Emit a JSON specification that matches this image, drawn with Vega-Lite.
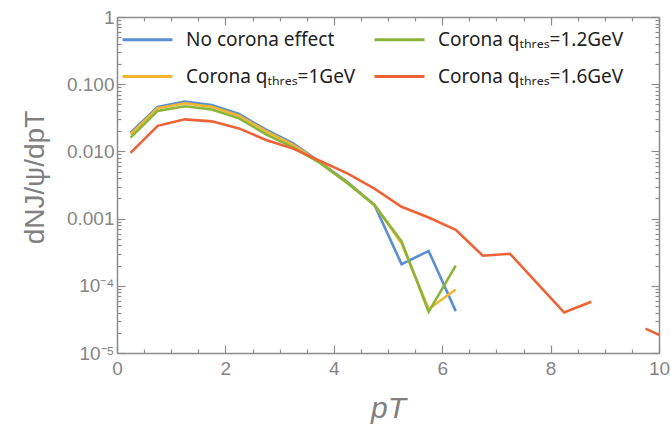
{
  "$schema": "https://vega.github.io/schema/vega-lite/v6.json",
  "autosize": "none",
  "width": 542,
  "height": 336,
  "padding": {"left": 117, "top": 17, "right": 12, "bottom": 78},
  "background": "white",
  "config": {"view": {"stroke": null}},
  "data": {"values": [
    {"pt": 0.25, "v": 0.019, "s": "No corona effect"},
    {"pt": 0.75, "v": 0.046, "s": "No corona effect"},
    {"pt": 1.25, "v": 0.055, "s": "No corona effect"},
    {"pt": 1.75, "v": 0.049, "s": "No corona effect"},
    {"pt": 2.25, "v": 0.036, "s": "No corona effect"},
    {"pt": 2.75, "v": 0.021, "s": "No corona effect"},
    {"pt": 3.25, "v": 0.0132, "s": "No corona effect"},
    {"pt": 3.75, "v": 0.0069, "s": "No corona effect"},
    {"pt": 4.25, "v": 0.0035, "s": "No corona effect"},
    {"pt": 4.75, "v": 0.0016, "s": "No corona effect"},
    {"pt": 5.25, "v": 0.00021, "s": "No corona effect"},
    {"pt": 5.75, "v": 0.00033, "s": "No corona effect"},
    {"pt": 6.25, "v": 0.000042, "s": "No corona effect"},
    {"pt": 0.25, "v": 0.018, "s": "Corona qₜₕᵣₑₛ=1GeV"},
    {"pt": 0.75, "v": 0.044, "s": "Corona qₜₕᵣₑₛ=1GeV"},
    {"pt": 1.25, "v": 0.052, "s": "Corona qₜₕᵣₑₛ=1GeV"},
    {"pt": 1.75, "v": 0.046, "s": "Corona qₜₕᵣₑₛ=1GeV"},
    {"pt": 2.25, "v": 0.034, "s": "Corona qₜₕᵣₑₛ=1GeV"},
    {"pt": 2.75, "v": 0.020, "s": "Corona qₜₕᵣₑₛ=1GeV"},
    {"pt": 3.25, "v": 0.0125, "s": "Corona qₜₕᵣₑₛ=1GeV"},
    {"pt": 3.75, "v": 0.0068, "s": "Corona qₜₕᵣₑₛ=1GeV"},
    {"pt": 4.25, "v": 0.0034, "s": "Corona qₜₕᵣₑₛ=1GeV"},
    {"pt": 4.75, "v": 0.0016, "s": "Corona qₜₕᵣₑₛ=1GeV"},
    {"pt": 5.25, "v": 0.00043, "s": "Corona qₜₕᵣₑₛ=1GeV"},
    {"pt": 5.75, "v": 0.000045, "s": "Corona qₜₕᵣₑₛ=1GeV"},
    {"pt": 6.25, "v": 0.000088, "s": "Corona qₜₕᵣₑₛ=1GeV"},
    {"pt": 0.25, "v": 0.016, "s": "Corona qₜₕᵣₑₛ=1.2GeV"},
    {"pt": 0.75, "v": 0.040, "s": "Corona qₜₕᵣₑₛ=1.2GeV"},
    {"pt": 1.25, "v": 0.047, "s": "Corona qₜₕᵣₑₛ=1.2GeV"},
    {"pt": 1.75, "v": 0.042, "s": "Corona qₜₕᵣₑₛ=1.2GeV"},
    {"pt": 2.25, "v": 0.031, "s": "Corona qₜₕᵣₑₛ=1.2GeV"},
    {"pt": 2.75, "v": 0.018, "s": "Corona qₜₕᵣₑₛ=1.2GeV"},
    {"pt": 3.25, "v": 0.0115, "s": "Corona qₜₕᵣₑₛ=1.2GeV"},
    {"pt": 3.75, "v": 0.0067, "s": "Corona qₜₕᵣₑₛ=1.2GeV"},
    {"pt": 4.25, "v": 0.0034, "s": "Corona qₜₕᵣₑₛ=1.2GeV"},
    {"pt": 4.75, "v": 0.0016, "s": "Corona qₜₕᵣₑₛ=1.2GeV"},
    {"pt": 5.25, "v": 0.00046, "s": "Corona qₜₕᵣₑₛ=1.2GeV"},
    {"pt": 5.75, "v": 0.000041, "s": "Corona qₜₕᵣₑₛ=1.2GeV"},
    {"pt": 6.25, "v": 0.0002, "s": "Corona qₜₕᵣₑₛ=1.2GeV"},
    {"pt": 0.25, "v": 0.0095, "s": "Corona qₜₕᵣₑₛ=1.6GeV"},
    {"pt": 0.75, "v": 0.024, "s": "Corona qₜₕᵣₑₛ=1.6GeV"},
    {"pt": 1.25, "v": 0.030, "s": "Corona qₜₕᵣₑₛ=1.6GeV"},
    {"pt": 1.75, "v": 0.028, "s": "Corona qₜₕᵣₑₛ=1.6GeV"},
    {"pt": 2.25, "v": 0.022, "s": "Corona qₜₕᵣₑₛ=1.6GeV"},
    {"pt": 2.75, "v": 0.0148, "s": "Corona qₜₕᵣₑₛ=1.6GeV"},
    {"pt": 3.25, "v": 0.011, "s": "Corona qₜₕᵣₑₛ=1.6GeV"},
    {"pt": 3.75, "v": 0.0072, "s": "Corona qₜₕᵣₑₛ=1.6GeV"},
    {"pt": 4.25, "v": 0.0047, "s": "Corona qₜₕᵣₑₛ=1.6GeV"},
    {"pt": 4.75, "v": 0.0028, "s": "Corona qₜₕᵣₑₛ=1.6GeV"},
    {"pt": 5.25, "v": 0.0015, "s": "Corona qₜₕᵣₑₛ=1.6GeV"},
    {"pt": 5.75, "v": 0.00104, "s": "Corona qₜₕᵣₑₛ=1.6GeV"},
    {"pt": 6.25, "v": 0.00068, "s": "Corona qₜₕᵣₑₛ=1.6GeV"},
    {"pt": 6.75, "v": 0.00028, "s": "Corona qₜₕᵣₑₛ=1.6GeV"},
    {"pt": 7.25, "v": 0.0003, "s": "Corona qₜₕᵣₑₛ=1.6GeV"},
    {"pt": 7.75, "v": 0.00011, "s": "Corona qₜₕᵣₑₛ=1.6GeV"},
    {"pt": 8.25, "v": 0.00004, "s": "Corona qₜₕᵣₑₛ=1.6GeV"},
    {"pt": 8.75, "v": 0.000058, "s": "Corona qₜₕᵣₑₛ=1.6GeV"},
    {"pt": 9.25, "v": null, "s": "Corona qₜₕᵣₑₛ=1.6GeV"},
    {"pt": 9.75, "v": 0.000023, "s": "Corona qₜₕᵣₑₛ=1.6GeV"},
    {"pt": 10.25, "v": 0.000015, "s": "Corona qₜₕᵣₑₛ=1.6GeV"}
  ]},
  "resolve": {"axis": {"x": "independent", "y": "independent"}},
  "layer": [
    {
      "mark": {"type": "line", "opacity": 0, "clip": true},
      "encoding": {
        "x": {"field": "pt", "type": "quantitative",
          "scale": {"domain": [0, 10], "nice": false, "zero": false},
          "axis": {"orient": "top", "values": [0,0.5,1,1.5,2,2.5,3,3.5,4,4.5,5,5.5,6,6.5,7,7.5,8,8.5,9,9.5,10],
            "labels": false, "title": null, "grid": false, "domainColor": "#8c8c8c", "domainWidth": 1.5,
            "tickColor": "#8c8c8c", "tickWidth": 1.2,
            "tickSize": {"condition": {"test": "datum.value % 2 === 0", "value": -8}, "value": -4}}},
        "y": {"field": "v", "type": "quantitative",
          "scale": {"type": "log", "domain": [0.00001, 1], "nice": false},
          "axis": {"orient": "right", "values": [0.00001,0.00002,0.00003,0.00004,0.00005,0.00006,0.00007,0.00008,0.00009,0.0001,0.0002,0.0003,0.0004,0.0005,0.0006,0.0007,0.0008,0.0009,0.001,0.002,0.003,0.004,0.005,0.006,0.007,0.008,0.009,0.01,0.02,0.03,0.04,0.05,0.06,0.07,0.08,0.09,0.1,0.2,0.3,0.4,0.5,0.6,0.7,0.8,0.9,1],
            "labels": false, "title": null, "grid": false, "domainColor": "#8c8c8c", "domainWidth": 1.5,
            "tickColor": "#8c8c8c", "tickWidth": 1.2,
            "tickSize": {"condition": {"test": "indexof([1,0.1,0.01,0.001,0.0001,0.00001], datum.value) >= 0", "value": -8}, "value": -4}}},
        "detail": {"field": "s"}
      }
    },
    {
      "mark": {"type": "line", "strokeWidth": 2.6, "clip": true},
      "encoding": {
        "x": {"field": "pt", "type": "quantitative",
          "scale": {"domain": [0, 10], "nice": false, "zero": false},
          "axis": {"orient": "bottom", "values": [0,0.5,1,1.5,2,2.5,3,3.5,4,4.5,5,5.5,6,6.5,7,7.5,8,8.5,9,9.5,10],
            "labelExpr": "datum.value % 2 === 0 ? format(datum.value, 'd') : ''",
            "labelFont": "Liberation Sans", "labelFontSize": 19, "labelColor": "#858585", "labelPadding": 14,
            "labelFlush": false,
            "title": "pT", "titleFont": "Liberation Sans", "titleFontSize": 30, "titleFontStyle": "italic",
            "titleFontWeight": "normal", "titleColor": "#808080", "titlePadding": 15,
            "grid": false, "domainColor": "#8c8c8c", "domainWidth": 1.5,
            "tickColor": "#8c8c8c", "tickWidth": 1.2,
            "tickSize": {"condition": {"test": "datum.value % 2 === 0", "value": -8}, "value": -4}}},
        "y": {"field": "v", "type": "quantitative",
          "scale": {"type": "log", "domain": [0.00001, 1], "nice": false},
          "axis": {"orient": "left", "values": [0.00001,0.00002,0.00003,0.00004,0.00005,0.00006,0.00007,0.00008,0.00009,0.0001,0.0002,0.0003,0.0004,0.0005,0.0006,0.0007,0.0008,0.0009,0.001,0.002,0.003,0.004,0.005,0.006,0.007,0.008,0.009,0.01,0.02,0.03,0.04,0.05,0.06,0.07,0.08,0.09,0.1,0.2,0.3,0.4,0.5,0.6,0.7,0.8,0.9,1],
            "labelExpr": "datum.value === 1 ? '1' : datum.value === 0.1 ? '0.100' : datum.value === 0.01 ? '0.010' : datum.value === 0.001 ? '0.001' : datum.value === 0.0001 ? '10⁻⁴' : datum.value === 0.00001 ? '10⁻⁵' : ''",
            "labelFont": "Liberation Sans", "labelFontSize": 19, "labelColor": "#858585", "labelPadding": 11,
            "labelFlush": false,
            "title": "dNJ/ψ/dpT", "titleFont": "Liberation Sans", "titleFontSize": 28,
            "titleFontWeight": "normal", "titleColor": "#808080", "titlePadding": 17, "titleY": 160,
            "grid": false, "domainColor": "#8c8c8c", "domainWidth": 1.5,
            "tickColor": "#8c8c8c", "tickWidth": 1.2,
            "tickSize": {"condition": {"test": "indexof([1,0.1,0.01,0.001,0.0001,0.00001], datum.value) >= 0", "value": -8}, "value": -4}}},
        "color": {"field": "s", "type": "nominal",
          "scale": {"domain": ["No corona effect", "Corona qₜₕᵣₑₛ=1GeV", "Corona qₜₕᵣₑₛ=1.2GeV", "Corona qₜₕᵣₑₛ=1.6GeV"],
            "range": ["#5b8fd1", "#f3b52f", "#8ab43a", "#ee6336"]},
          "legend": {"orient": "none", "legendX": 4, "legendY": -4, "columns": 2, "title": null,
            "symbolType": "stroke", "symbolSize": 2500, "symbolStrokeWidth": 3,
            "labelFont": "Noto Sans", "labelFontSize": 19, "labelColor": "#222222", "labelOffset": 12,
            "columnPadding": 12, "rowPadding": -31, "labelLimit": 400}}
      }
    }
  ]
}
